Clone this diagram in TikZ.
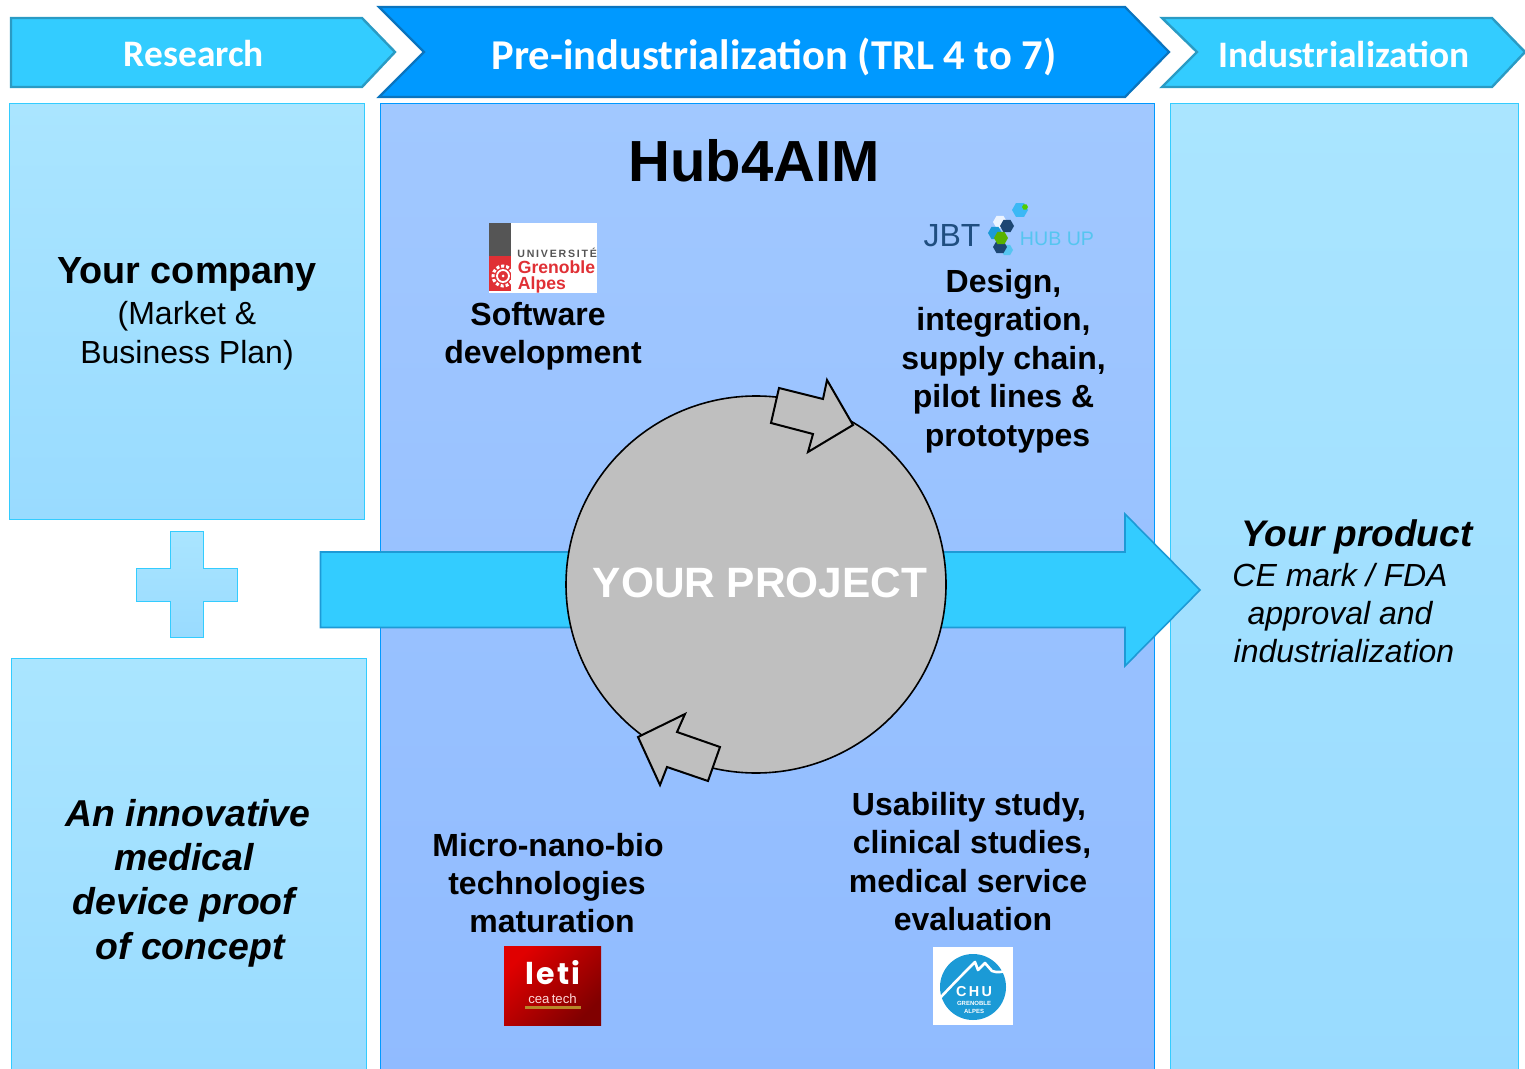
\documentclass[tikz,border=0pt]{standalone}
\usepackage{fontspec}
\setmainfont{Liberation Sans}
\newfontfamily\carl{Carlito}
\newfontfamily\pop[LetterSpace=8]{Poppins}
\usetikzlibrary{shapes.geometric}
\definecolor{cyanA}{HTML}{33CCFF}
\definecolor{cyanEdge}{HTML}{2A9BC4}
\definecolor{deepA}{HTML}{0099FF}
\definecolor{deepEdge}{HTML}{0A74BE}
\definecolor{panelTop}{HTML}{AAE5FF}
\definecolor{panelBot}{HTML}{99DBFF}
\definecolor{midTop}{HTML}{A1C8FF}
\definecolor{midBot}{HTML}{90BBFF}
\definecolor{boxEdge}{HTML}{33CCFF}
\definecolor{ugaRed}{HTML}{E03035}
\definecolor{ugaGrey}{HTML}{555555}
\definecolor{jbtBlue}{HTML}{1F4E80}
\definecolor{hubBlue}{HTML}{55C5F0}
\definecolor{chuBlue}{HTML}{1B9AD6}
\definecolor{ringGrey}{HTML}{BFBFBF}
\definecolor{letiGold}{HTML}{B8862A}
\newcommand{\fs}[2]{\fontsize{#1}{#2}\selectfont}
\newcommand{\hexa}[4]{\fill[#4] (#1+#3,#2)--(#1+.5*#3,#2+.87*#3)--(#1-.5*#3,#2+.87*#3)--(#1-#3,#2)--(#1-.5*#3,#2-.87*#3)--(#1+.5*#3,#2-.87*#3)--cycle;}
\tikzset{
  x=0.5pt,y=-0.5pt,
  hdr/.style={fill=cyanA,draw=cyanEdge,line width=1.2pt,line join=miter},
  hdrdeep/.style={fill=deepA,draw=deepEdge,line width=1.1pt},
  hdrtext/.style={text=white,font=\carl\bfseries},
  sidepanel/.style={draw=boxEdge,line width=.5pt,top color=panelTop,bottom color=panelBot},
  midpanel/.style={draw=deepA,line width=.5pt,top color=midTop,bottom color=midBot},
  label/.style={align=center,inner sep=0pt,text=black},
  body/.style={label,font=\bfseries\fs{16}{19.2}},
  turn/.style={fill=ringGrey,draw=black,line width=1pt,line join=miter},
}
\begin{document}
\begin{tikzpicture}
\clip (0,0) rectangle (1525,1069);
\fill[white] (0,0) rectangle (1525,1069);

% panels
\path[sidepanel] (9,103.5) rectangle (364.5,519);
\path[sidepanel] (11,658) rectangle (366.5,1085);
\path[midpanel] (380,103.5) rectangle (1154,1085);
\path[sidepanel] (1170,103.5) rectangle (1518.5,1085);

% chevrons
\path[hdr] (11,18)--(362,18)--(395,52)--(362,87)--(11,87)--cycle;
\path[hdrdeep] (379,7)--(1125,7)--(1169,52)--(1125,97)--(379,97)--(424,52)--cycle;
\path[hdr] (1162,18)--(1492,18)--(1525,52)--(1492,87)--(1162,87)--(1197,52)--cycle;
\node[hdrtext,font=\carl\bfseries\fs{18.7}{20}] (research) at (194,54) {Research};
\node[hdrtext,font=\carl\bfseries\fs{21.25}{24}] (pre) at (774,57) {Pre-industrialization (TRL 4 to 7)};
\node[hdrtext,font=\carl\bfseries\fs{18.7}{20}] (indus) at (1344,54) {Industrialization};

% plus
\path[draw=boxEdge,line width=.5pt,top color=panelTop,bottom color=panelBot]
 (170,531)--(203,531)--(203,568)--(237,568)--(237,601)--(203,601)--(203,637)--(170,637)--(170,601)--(136,601)--(136,568)--(170,568)--cycle;

% main arrow
\path[fill=cyanA,draw=cyanEdge!70!deepA,line width=.8pt]
 (320.5,552)--(1125,552)--(1125,514)--(1200,590)--(1125,666)--(1125,627.5)--(320.5,627.5)--cycle;

% circle
\node[ellipse,fill=ringGrey,draw=black,line width=.8pt,minimum width=190pt,minimum height=188.5pt,inner sep=0pt] (ring) at (756,584.5) {};
\node[text=white,font=\bfseries\fs{21.2}{24},inner sep=0pt] (project) at (760,583) {YOUR PROJECT};
\path[turn] (779,388)--(823,399)--(827,380)--(853,425)--(808,452)--(813,434)--(771,423)--cycle;
\path[turn] (685,714)--(677,732)--(720,747)--(708,781)--(667,767)--(660,785)--(638,737)--cycle;

% text
\node[label,font=\bfseries\fs{29}{32}] (hub) at (754,161) {Hub4AIM};
\node[label,font=\fs{16}{19.5}] (company) at (187,314) {{\bfseries\fs{18.9}{20}Your company}\\[.7pt](Market \&\\Business Plan)};
\node[label,font=\bfseries\itshape\fs{18.7}{22.2}] (poc) at (187,883) {\hspace*{1pt}An innovative\\\hspace*{-3pt}medical\\\hspace*{-3pt}device proof\\\hspace*{3pt}of concept};
\node[label,font=\itshape\fs{16}{19}] (product) at (1346,591) {\hspace*{11pt}{\bfseries\fs{18.5}{20}Your product}\\[1pt]\hspace*{-6pt}CE mark / FDA\\\hspace*{-6pt}approval and\\\hspace*{-2pt}industrialization};
\node[body] (soft) at (541,336) {\hspace*{-3pt}Software\\\hspace*{2pt}development};
\node[body] (design) at (1003.5,361) {Design,\\integration,\\supply chain,\\pilot lines \&\\\hspace*{4pt}prototypes};
\node[body] (micro) at (549,883) {\hspace*{-1pt}Micro-nano-bio\\\hspace*{-2pt}technologies\\\hspace*{3pt}maturation};
\node[body] (usab) at (970,861.5) {\hspace*{-1pt}Usability study,\\\hspace*{2pt}clinical studies,\\\hspace*{-2pt}medical service\\\hspace*{3pt}evaluation};

% UGA logo
\fill[white] (489,223) rectangle (597,293);
\fill[ugaGrey] (489,223) rectangle (511,256);
\fill[ugaRed] (489,256) rectangle (511,291);
\draw[white,line width=.9pt] (503,276) circle[radius=6];
\fill[white] (503,276) circle[radius=1.5];
\draw[white,line width=1.5pt,dash pattern=on 1.5pt off 1pt] (503,276) circle[radius=10];
\node[anchor=west,inner sep=0pt,text=ugaGrey,font=\bfseries\fs{5.3}{6}] (ugaa) at (517,253) {U\,N\,I\,V\,E\,R\,S\,I\,T\,É};
\node[anchor=west,inner sep=0pt,text=ugaRed,font=\bfseries\fs{8.8}{9}] (ugab) at (517.5,267) {Grenoble};
\node[anchor=west,inner sep=0pt,text=ugaRed,font=\bfseries\fs{8.8}{9}] (ugac) at (517.5,285) {Alpes};

% JBT logo
\node[inner sep=0pt,text=jbtBlue,font=\fs{16}{18}] (jbt) at (952,236) {JBT};
\hexa{1020}{210}{8}{hubBlue!70!deepA}
\hexa{1025}{207}{3}{green!60!yellow!80!black}
\hexa{1000}{222}{7}{white!80!midTop}
\hexa{1007}{226}{7}{jbtBlue!90!black}
\hexa{995}{233}{7}{chuBlue}
\hexa{1007}{250}{6}{hubBlue}
\hexa{1000}{247}{7}{jbtBlue!90!black}
\hexa{1001}{238}{7}{green!50!yellow!70!black}
\node[inner sep=0pt,text=hubBlue,font=\fs{9.8}{12}] (hubup) at (1057,239) {HUB UP};

% leti logo
\path[left color=red!88!black,right color=red!50!black,shading angle=45] (504,946) rectangle (601,1025);
\node[inner sep=0pt,text=white,font=\pop\bfseries\fs{15}{16}] (leti) at (553,973) {leti};
\node[inner sep=0pt,text=white!85!red,font=\fs{6.6}{8}] (cea) at (552.5,999) {cea\,tech};
\fill[letiGold] (525,1006) rectangle (581,1008.5);

% CHU logo
\fill[white] (933,947) rectangle (1013,1025);
\fill[chuBlue] (973,987) circle[radius=33];
\draw[white,line width=1.3pt,line join=round] (940,998) .. controls (955,982) and (965,972) .. (975,962) -- (978,970) -- (985,963) -- (992,971) .. controls (997,973) and (1003,972) .. (1008,970);
\node[inner sep=0pt,text=white,font=\bfseries\fs{7.2}{9}] (chu) at (974,992) {C\,H\,U};
\node[inner sep=0pt,text=white,font=\bfseries\fs{3}{3.5}] (gre) at (974,1003) {GRENOBLE};
\node[inner sep=0pt,text=white,font=\bfseries\fs{3}{3.5}] (alp) at (974,1011) {ALPES};
\end{tikzpicture}
\end{document}
